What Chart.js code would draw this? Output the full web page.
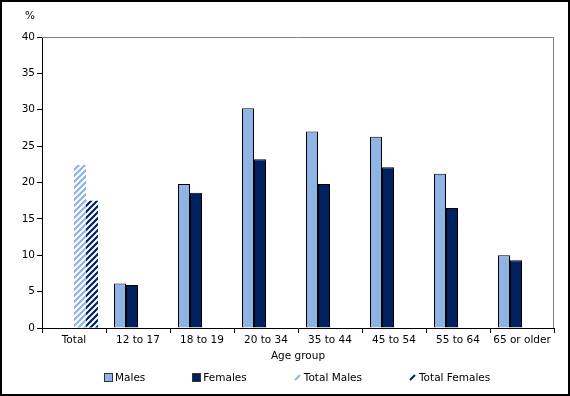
<!DOCTYPE html>
<html>
<head>
<meta charset="utf-8">
<script src="https://cdn.jsdelivr.net/npm/chart.js@4"></script>
<style>
    body { margin: 0; background: #fff; }
    #wrap {
        position: relative;
        width: 570px; height: 396px;
        border: 2px solid #000;
        box-sizing: border-box;
        font-family: "DejaVu Sans", Verdana, sans-serif;
        font-size: 10.5px;
    }
    #legend {
        position: absolute;
        left: 102px; top: 369px;
        display: flex; gap: 47px;
        white-space: nowrap;
    }
    .item { display: flex; align-items: center; gap: 2px; }
    .box { width: 7px; height: 7px; border: 1px solid #333; }
</style>
</head>
<body>
<div id="wrap">
    <canvas id="chart" width="566" height="392"></canvas>
    <div id="legend"></div>
</div>
<script>
const categories = ['Total', '12 to 17', '18 to 19', '20 to 34', '35 to 44', '45 to 54', '55 to 64', '65 or older'];
const males = [null, 6.1, 19.8, 30.2, 27.0, 26.3, 21.2, 10.0];
const females = [null, 5.9, 18.6, 23.2, 19.8, 22.1, 16.5, 9.3];
const totalMales = [22.4, null, null, null, null, null, null, null];
const totalFemales = [17.5, null, null, null, null, null, null, null];
const yTicks = [0, 5, 10, 15, 20, 25, 30, 35, 40];

const LIGHT = '#8EB4E3';
const DARK = '#002060';

// diagonal stripes for the "Total" bars
function stripes(color) {
    const c = document.createElement('canvas');
    c.width = 6; c.height = 6;
    const g = c.getContext('2d');
    g.strokeStyle = color;
    g.lineWidth = 2.2;
    g.beginPath();
    g.moveTo(-3, 3); g.lineTo(3, -3);
    g.moveTo(0, 6); g.lineTo(6, 0);
    g.moveTo(3, 9); g.lineTo(9, 3);
    g.stroke();
    return g.createPattern(c, 'repeat');
}

Chart.defaults.font.family = '"DejaVu Sans", Verdana, sans-serif';
Chart.defaults.font.size = 10.5;
Chart.defaults.color = '#000';

const frame = {
    id: 'frame',
    beforeDatasetsDraw(chart) {
        const { ctx, chartArea: a } = chart;
        ctx.save();
        ctx.strokeStyle = '#808080';
        ctx.lineWidth = 1;
        ctx.beginPath();
        ctx.moveTo(a.left, a.top + 0.5);
        ctx.lineTo(a.right - 0.5, a.top + 0.5);
        ctx.lineTo(a.right - 0.5, a.bottom);
        ctx.stroke();
        ctx.restore();
    },
    afterDraw(chart) {
        const ctx = chart.ctx;
        ctx.save();
        ctx.fillStyle = '#000';
        ctx.font = '10.5px "DejaVu Sans", Verdana, sans-serif';
        ctx.textAlign = 'center';
        ctx.textBaseline = 'middle';
        ctx.fillText('%', 28, 14);
        ctx.restore();
    }
};

const chart = new Chart(document.getElementById('chart'), {
    type: 'bar',
    data: {
        labels: categories,
        datasets: [
            { label: 'Males', data: males, backgroundColor: LIGHT, borderColor: '#000', borderWidth: 1 },
            { label: 'Females', data: females, backgroundColor: DARK, borderColor: '#000', borderWidth: 1 },
            { label: 'Total Males', data: totalMales, backgroundColor: stripes(LIGHT), borderWidth: 0 },
            { label: 'Total Females', data: totalFemales, backgroundColor: stripes(DARK), borderWidth: 0 }
        ]
    },
    options: {
        responsive: false,
        animation: false,
        categoryPercentage: 0.75,
        barPercentage: 1,
        layout: { padding: { left: 0, right: 14, top: 35, bottom: 30 } },
        plugins: {
            legend: { display: false },
            tooltip: { enabled: false }
        },
        scales: {
            x: {
                grid: { offset: true, drawOnChartArea: false, tickLength: 5, color: '#000' },
                border: { color: '#000' },
                ticks: { padding: 1, maxRotation: 0 },
                title: { display: true, text: 'Age group', padding: { top: 0, bottom: 1 } },
                afterFit: s => { s.height = 36; }
            },
            y: {
                min: 0, max: 40,
                afterBuildTicks: s => { s.ticks = yTicks.map(v => ({ value: v })); },
                grid: { drawOnChartArea: false, tickLength: 5, color: '#000' },
                border: { color: '#000' },
                ticks: { padding: 2 },
                afterFit: s => { s.width = 40; }
            }
        }
    },
    plugins: [frame]
});

// legend below the chart
const legend = document.getElementById('legend');
chart.data.datasets.forEach((ds, i) => {
    const item = document.createElement('div');
    item.className = 'item';
    let sw;
    if (i < 2) {
        sw = document.createElement('span');
        sw.className = 'box';
        sw.style.background = ds.backgroundColor;
    } else {
        const col = i === 2 ? LIGHT : DARK;
        sw = document.createElementNS('http://www.w3.org/2000/svg', 'svg');
        sw.setAttribute('width', '8');
        sw.setAttribute('height', '8');
        sw.innerHTML = `<line x1="1" y1="7" x2="6" y2="2" stroke="${col}" stroke-width="2"/>`;
    }
    const t = document.createElement('span');
    t.textContent = ds.label;
    item.append(sw, t);
    legend.append(item);
});
</script>
</body>
</html>
